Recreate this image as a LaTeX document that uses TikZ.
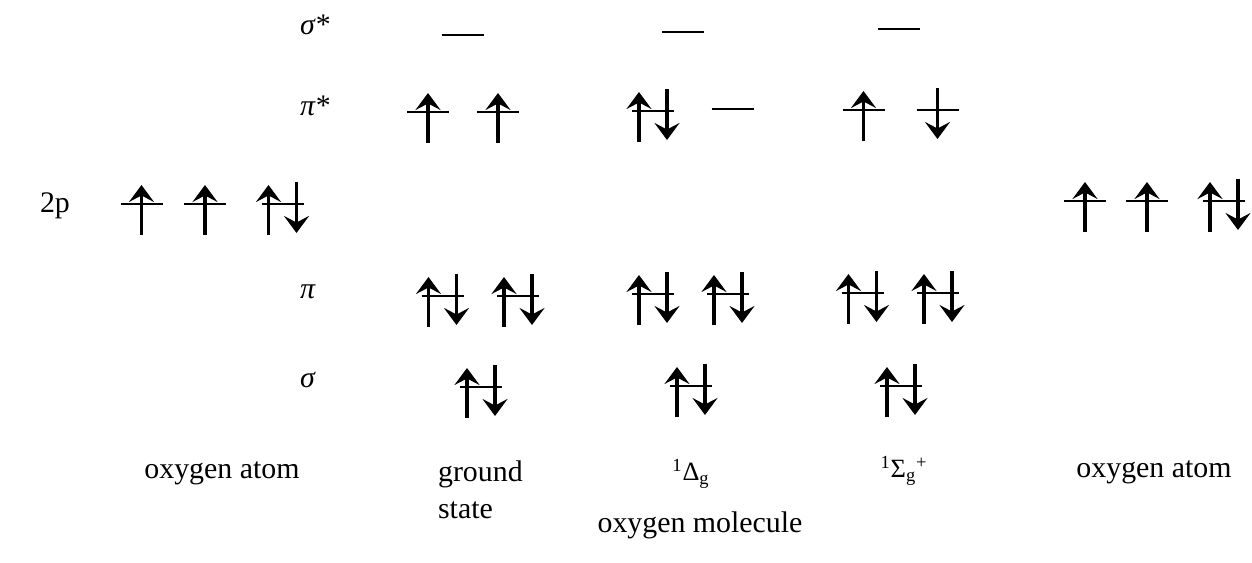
\documentclass[tikz,border=0pt]{standalone}
\usepackage{fontspec}
\setmainfont{Liberation Serif}
\usetikzlibrary{arrows.meta}

\begin{document}
\begin{tikzpicture}[
        x=0.02cm, y=-0.02cm,
        every node/.style={font=\fontsize{17}{21}\selectfont, inner sep=1pt},
        level/.style={line width=1.1pt},
        spin/.style={line width=2pt, -{Stealth[length=0.34cm, width=0.5cm, inset=0.13cm]}},
        % one level with its electrons, centred on the level line
        empty/.pic={\draw[level] (-21,0) -- (21,0);},
        single/.pic={\draw[level] (-21,0) -- (21,0);
                     \draw[spin] (0,31) -- (0,-19);},
        singledown/.pic={\draw[level] (-21,0) -- (21,0);
                     \draw[spin] (0,-22) -- (0,29);},
        pair/.pic={\draw[level] (-21,0) -- (21,0);
                   \draw[spin] (-14,31) -- (-14,-19);
                   \draw[spin] (14,-22) -- (14,29);}
        ]
        \useasboundingbox (0,0) rectangle (1252,563);

        % Level names
        \node[anchor=west] (sigstar) at (298,25) {\textit{σ}*};
        \node[anchor=west] (pistar) at (298,106) {\textit{π}*};
        \node[anchor=west] (pilab) at (298,292) {\textit{π}};
        \node[anchor=west] (siglab) at (298,380) {\textit{σ}};
        \node (twop) at (55,206) {2p};

        % Oxygen atom, left
        \pic at (141.5,204) {single};
        \pic at (205,204) {single};
        \pic at (282.5,204) {pair};

        % Ground state
        \pic at (462.5,35) {empty};
        \pic at (428,112) {single};
        \pic at (498,112) {single};
        \pic at (442.5,296) {pair};
        \pic at (518,296) {pair};
        \pic at (481,387) {pair};

        % Singlet Delta
        \pic at (683,32) {empty};
        \pic at (653,111) {pair};
        \pic at (732.5,109) {empty};
        \pic at (653,294) {pair};
        \pic at (728,294) {pair};
        \pic at (691,386) {pair};

        % Singlet Sigma
        \pic at (898.5,29) {empty};
        \pic at (863.5,110) {single};
        \pic at (937.5,110) {singledown};
        \pic at (862.5,293) {pair};
        \pic at (938,293) {pair};
        \pic at (901,386) {pair};

        % Oxygen atom, right
        \pic at (1085,201) {single};
        \pic at (1147,201) {single};
        \pic at (1224,201) {pair};

        % Captions
        \node (atomleft) at (222,473) {oxygen atom};
        \node[anchor=west, align=left] (ground) at (436,490) {ground\\state};
        \node[font=\fontsize{15}{18}\selectfont] (delta) at (691,474) {\textsuperscript{1}Δ\textsubscript{g}};
        \node[font=\fontsize{15}{18}\selectfont] (sigma) at (904,471) {\textsuperscript{1}Σ\textsubscript{g}\textsuperscript{+}};
        \node (atomright) at (1154,472) {oxygen atom};
        \node (molecule) at (700,525) {oxygen molecule};
    \end{tikzpicture}
\end{document}
